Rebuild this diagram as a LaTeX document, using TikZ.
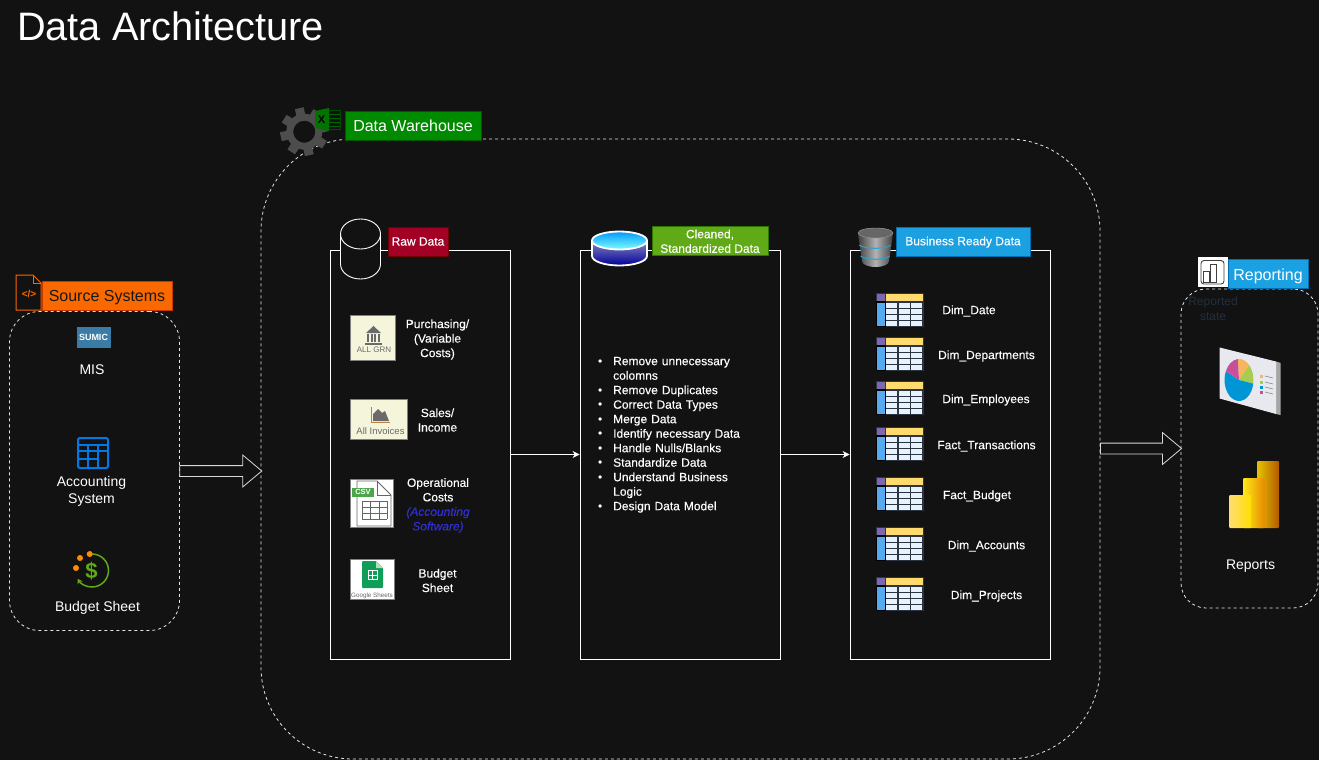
\documentclass[tikz,border=0pt]{standalone}
\usepackage{fontspec}
\setmainfont{Liberation Sans}
\newfontfamily\labelface[FakeBold=0.2]{Liberation Sans}
\usetikzlibrary{shapes.arrows,arrows.meta}

\definecolor{pagebg}{HTML}{121212}
\definecolor{gearcol}{HTML}{4D4D4D}
\definecolor{bluecol}{HTML}{1BA1E2}
\definecolor{beigecol}{HTML}{F5F5DC}
\definecolor{iconcol}{HTML}{6A6A6A}
\definecolor{sheetgreen}{HTML}{0F9D58}
\definecolor{notecol}{HTML}{3030D0}
\definecolor{srcfill}{HTML}{FA6800}
\definecolor{srcline}{HTML}{C73500}
\definecolor{dwfill}{HTML}{008A00}
\definecolor{dwline}{HTML}{005700}
\definecolor{rawfill}{HTML}{A20025}
\definecolor{rawline}{HTML}{6F0000}
\definecolor{cleanfill}{HTML}{60A917}
\definecolor{cleanline}{HTML}{2D7600}
\definecolor{busline}{HTML}{006EAF}
\definecolor{sumicblue}{HTML}{3A7CA5}
\definecolor{acctblue}{HTML}{0078E8}
\definecolor{tabpurple}{HTML}{7B68B0}
\definecolor{tabyellow}{HTML}{FFDB6E}
\definecolor{tabblue}{HTML}{55AAF0}
\definecolor{tabcell}{HTML}{E8F2FC}
\definecolor{tabgap}{HTML}{2A3442}
\definecolor{pieblue}{HTML}{0095D5}
\definecolor{piepink}{HTML}{C8509A}
\definecolor{pieorange}{HTML}{F7B55E}
\definecolor{piegreen}{HTML}{A8CC50}
\definecolor{panelface}{HTML}{E8E9EE}
\definecolor{statecol}{HTML}{232F3E}

\tikzset{
	container/.style={draw=white!90!black, dash pattern=on 3pt off 3pt, line width=0.8pt, fill=none, inner sep=0pt},
	layerbox/.style={draw=white, line width=0.9pt, fill=none, minimum width=180pt, minimum height=409pt, inner sep=0pt},
	tag/.style={draw, line width=1pt, minimum height=29pt, align=center, inner sep=0pt},
	bigtext/.style={text=white, font=\fontsize{16}{18}\selectfont, text height=15pt, text depth=2.5pt},
	smalltag/.style={text=white, font=\labelface\fontsize{12}{14.5}\selectfont},
	caption/.style={text=white, align=center, inner sep=0pt, font=\fontsize{14}{17}\selectfont},
	itemtext/.style={text=white, align=center, inner sep=0pt, font=\labelface\fontsize{12}{14.5}\selectfont},
	blockarrow/.style={single arrow, draw=white!85!black, line width=0.8pt, minimum width=31pt, single arrow head extend=10.5pt, single arrow tip angle=80, inner xsep=0pt, inner ysep=5pt, fill=pagebg, xshift=-2.7pt},
	flow/.style={draw=white, line width=0.8pt, -{Stealth[length=7pt,width=7pt]}},
	icontile/.style={draw=gray, line width=0.8pt},
}

\newcommand{\tableicon}[2]{
	% one table glyph, left and top edge
	\fill[tabgap] (#1,#2) rectangle ++(48,34);
	\fill[tabpurple] (#1+1,#2+1) rectangle ++(8,7);
	\fill[tabyellow] (#1+10,#2+1) rectangle ++(37,7);
	\fill[black] (#1,#2+8) rectangle ++(10,26);
	\fill[tabblue] (#1+1,#2+10) rectangle ++(8,23);
	\foreach \r in {10,16,22,28} {
		\foreach \c in {10,23,35} {
			\fill[tabcell] (#1+\c,#2+\r) rectangle ++(11,4.5);
		}
	}
}

\begin{document}
\begin{tikzpicture}[x=1pt,y=-1pt]
	
	% Page
	\useasboundingbox (0,0) rectangle (1319,760);
	\fill[pagebg] (0,0) rectangle (1319,760);
	
	% Title
	\node[anchor=west, text=white, inner sep=0pt, font=\fontsize{39.7}{42}\selectfont] (title) at (17,26) {Data Architecture};
	
	% Containers
	\node[container, rounded corners=30pt, minimum width=170pt, minimum height=319pt] (source) at (94.5,471) {};
	\node[container, rounded corners=92pt, minimum width=839pt, minimum height=620pt] (warehouse) at (680.5,449) {};
	\node[container, rounded corners=25pt, minimum width=137pt, minimum height=319pt] (reporting) at (1249.5,448.5) {};
	
	% Layers
	\node[layerbox] (raw) at (420,454.5) {};
	\node[layerbox, minimum width=200pt] (clean) at (680,454.5) {};
	\node[layerbox, minimum width=200pt] (business) at (950,454.5) {};
	
	% Arrows
	\path (source.east) -- (warehouse.west |- source.east) node[midway, blockarrow, minimum height=82pt] (towarehouse) {};
	\path (warehouse.east |- reporting.west) -- (reporting.west) node[midway, blockarrow, minimum height=81pt] (toreporting) {};
	\draw[flow] (raw.east) -- (clean.west);
	\draw[flow] (clean.east) -- (business.west);
	
	% Tags
	\node[tag, fill=srcfill, draw=srcline, minimum width=130pt, bigtext, text=black!90, text height=14pt] (sourcetag) at (107,296) {Source Systems};
	\node[tag, fill=dwfill, draw=dwline, minimum width=136pt, bigtext] (warehousetag) at (413,125.5) {Data Warehouse};
	\node[tag, fill=rawfill, draw=rawline, minimum width=60pt, smalltag] (rawtag) at (418,241.5) {Raw Data};
	\node[tag, fill=cleanfill, draw=cleanline, minimum width=116pt, smalltag, text height=23.5pt, text depth=0pt] (cleantag) at (710,241) {Cleaned,\\Standardized Data};
	\node[tag, fill=bluecol, draw=busline, minimum width=134pt, smalltag, text height=7.5pt, text depth=0pt] (businesstag) at (963,241.5) {Business Ready Data};
	\node[tag, fill=bluecol, draw=busline, minimum width=80pt, bigtext, text height=16pt] (reportingtag) at (1268,273.5) {Reporting};
	
	% Source icons
	\draw[srcfill, line width=1pt, fill=pagebg] (16,310) -- (16,275) -- (33,275) -- (41,283) -- (41,310) -- cycle;
	\draw[srcfill, line width=1pt] (33,275) -- (33,283) -- (41,283);
	\node[text=srcfill, inner sep=0pt, font=\bfseries\fontsize{10}{10}\selectfont] (codemark) at (29,294) {</>};
	\node[fill=sumicblue, minimum width=34pt, minimum height=21pt, inner sep=0pt, text=white, font=\bfseries\fontsize{9}{9}\selectfont] (sumic) at (93.5,337.5) {SUMIC};
	\draw[acctblue, line width=2pt, rounded corners=2pt, fill=pagebg] (78,438) rectangle (108,468);
	\draw[acctblue, line width=1.2pt] (78,445) -- (108,445) (78,451) -- (108,451) (78,459) -- (98,459) (88,445) -- (88,468) (98,445) -- (98,468);
	\draw[cleanfill, line width=1.5pt, -{Stealth[length=5pt,width=6pt]}] (92,554) arc (90:-150:16.5pt);
	\node[text=cleanfill, inner sep=0pt, font=\bfseries\fontsize{22}{22}\selectfont] (dollar) at (91.5,571) {\$};
	\foreach \dx/\dy in {80/558, 89.7/554, 76/568} {
		\fill[orange!90!yellow] (\dx,\dy) circle (3pt);
	}
	
	% Source captions
	\node[caption] (mis) at (92,370) {MIS};
	\node[caption] (accounting) at (91.5,491) {Accounting\\System};
	\node[caption] (budget) at (97.5,608) {Budget Sheet};
	
	% Warehouse icons
	\foreach \a in {0,45,...,315} {
		\fill[gearcol, shift={(304.3,131.7)}, rotate=\a+12] (-4.5pt,14pt) rectangle (4.5pt,24pt);
	}
	\draw[gearcol, line width=7pt] (304.3,131.7) circle (14.5pt);
	\draw[green!30!black, line width=0.8pt, fill=pagebg] (324,110) rectangle (340.5,129);
	\foreach \y in {114,118,122,126} {
		\draw[green!40!black, line width=0.8pt] (329,\y) -- (340,\y);
	}
	\fill[green!45!black] (315,111) -- (329,108) -- (329,131) -- (315,128) -- cycle;
	\node[text=black, inner sep=0pt, font=\bfseries\fontsize{11}{11}\selectfont] (excelx) at (321.5,120) {X};
	
	% Raw layer icon
	\draw[white, line width=0.9pt, fill=pagebg] (340.5,234) -- (340.5,264) arc (180:360:20pt and 15pt) -- (380.5,234) arc (0:180:20pt and 15pt);
	\draw[white, line width=0.9pt] (340.5,234) arc (180:360:20pt and 15pt);
	
	% Raw layer tiles
	\draw[icontile, fill=beigecol] (350.5,315.5) rectangle (395.5,360);
	\fill[iconcol] (366,333) -- (373.5,326) -- (381,333) -- cycle;
	\foreach \x in {367,370.5,374,377.5} {
		\fill[iconcol] (\x,334) rectangle ++(2,8);
	}
	\fill[iconcol] (365,342.5) rectangle (382,345);
	\node[text=iconcol, inner sep=0pt, font=\fontsize{8}{8}\selectfont] (allgrn) at (374,350) {ALL GRN};
	\draw[icontile, fill=beigecol] (350.5,399.5) rectangle (407.5,439);
	\draw[orange!50!gray, line width=0.8pt] (371,407) -- (371,422) -- (390,422);
	\fill[iconcol] (373,421) -- (373,414) -- (378,409) -- (382,413) -- (385,411) -- (389,421) -- cycle;
	\node[text=iconcol, inner sep=0pt, font=\fontsize{9.5}{9.5}\selectfont] (allinvoices) at (380.5,431) {All Invoices};
	\draw[icontile, fill=white] (350.5,479.5) rectangle (393,527);
	\draw[black!60, line width=0.8pt, fill=white] (357,481) -- (377,481) -- (391,495) -- (391,526) -- (357,526) -- cycle;
	\draw[black!60, line width=0.8pt] (377,481) -- (377,495) -- (391,495);
	\foreach \y in {501,507,513,519} {
		\draw[black!60, line width=0.8pt] (362,\y) -- (387,\y);
	}
	\foreach \x in {362,370,379,387} {
		\draw[black!60, line width=0.8pt] (\x,501) -- (\x,519);
	}
	\node[fill=green!50!black!70!white, minimum width=22pt, minimum height=9pt, inner sep=0pt, text=white, font=\bfseries\fontsize{7.5}{8}\selectfont] (csvtag) at (363,492) {CSV};
	\draw[icontile, fill=white] (350.5,559.5) rectangle (394,599);
	\fill[sheetgreen, rounded corners=1pt] (362,561) -- (376,561) -- (383,568) -- (383,588) -- (362,588) -- cycle;
	\fill[green!60!black!30!white] (376,561) -- (376,568) -- (383,568) -- cycle;
	\draw[white, line width=1pt] (368,570.5) rectangle (377,579.5) (368,575) -- (377,575) (372.5,570.5) -- (372.5,579.5);
	\node[text=iconcol, inner sep=0pt, font=\fontsize{6.3}{7}\selectfont] (gsheets) at (372,596) {Google Sheets};
	
	% Raw layer captions
	\node[itemtext] (purchasing) at (437.5,339.5) {Purchasing/\\(Variable\\Costs)};
	\node[itemtext] (sales) at (437.5,420) {Sales/\\Income};
	\node[itemtext] (operational) at (438,505.5) {Operational\\Costs\\\textcolor{notecol}{\itshape (Accounting}\\\textcolor{notecol}{\itshape Software)}};
	\node[itemtext] (budgetsheet) at (437.5,580.5) {Budget\\Sheet};
	
	% Cleaned layer icon
	\shade[top color=blue!30!gray!70!white, bottom color=blue!60!black] (592,240) -- (592,256) arc (180:360:27.5pt and 9.5pt) -- (647,240) -- cycle;
	\draw[white, line width=1.8pt] (592,240) -- (592,256) arc (180:360:27.5pt and 9.5pt) -- (647,240);
	\draw[white, line width=1.8pt, top color=cyan!60!blue, bottom color=cyan!50!white] (619.5,240.5) ellipse (27.5pt and 9pt);
	
	% Cleaned layer list
	\node[anchor=north west, text=white, inner sep=0pt, text width=152pt, align=left, font=\labelface\fontsize{12}{14.5}\selectfont] (steps) at (596,342.5) {%
		\setlength{\leftmargini}{17pt}\setlength{\labelsep}{11pt}%
		\begin{itemize}\setlength{\itemsep}{0pt}\setlength{\parskip}{0pt}\setlength{\parsep}{0pt}\setlength{\topsep}{0pt}\vspace{-\topsep}\vspace{-\parskip}
			\item Remove unnecessary\\colomns
			\item Remove Duplicates
			\item Correct Data Types
			\item Merge Data
			\item Identify necessary Data
			\item Handle Nulls/Blanks
			\item Standardize Data
			\item Understand Business\\Logic
			\item Design Data Model
		\end{itemize}};
	
	% Business layer icon
	\shade[left color=black!75, right color=black!75, middle color=black!30] (858,233) -- (862,261) arc (180:360:13.5pt and 6pt) -- (889,261) -- (893,233) arc (0:180:17.5pt and 5pt) -- cycle;
	\draw[black!40, fill=black!60] (875.5,233) ellipse (17.5pt and 5pt);
	\draw[blue!30!cyan!70!gray, line width=1pt] (859,245) arc (200:340:17pt and 5pt);
	\draw[blue!30!cyan!70!gray, line width=1pt] (860.5,256) arc (200:340:15.5pt and 5pt);
	
	% Tables
	\foreach \yt in {293,337,381,427,477,527,577} {
		\tableicon{876}{\yt}
	}
	\node[itemtext] (dimdate) at (969,311) {Dim\_Date};
	\node[itemtext] (dimdepartments) at (986.5,356) {Dim\_Departments};
	\node[itemtext] (dimemployees) at (986,400) {Dim\_Employees};
	\node[itemtext] (facttransactions) at (986.5,446) {Fact\_Transactions};
	\node[itemtext] (factbudget) at (977,496) {Fact\_Budget};
	\node[itemtext] (dimaccounts) at (986.5,546) {Dim\_Accounts};
	\node[itemtext] (dimprojects) at (986.5,596) {Dim\_Projects};
	
	% Reporting icon
	\fill[white] (1197.5,257) rectangle (1227.5,287);
	\draw[black!75, line width=0.9pt, rounded corners=3pt] (1201,260.5) rectangle (1224,284);
	\draw[black!75, line width=0.9pt] (1203,271) rectangle (1209.5,282) (1210.5,264) rectangle (1216,282);
	\node[text=statecol, align=center, inner sep=0pt, font=\fontsize{12}{14.5}\selectfont] (reportedstate) at (1213,308.5) {Reported\\state};
	
	% Pie panel
	\fill[gray!70] (1276,361.5) -- (1280.5,363) -- (1280.5,415) -- (1276,414) -- cycle;
	\fill[panelface] (1219.5,347.5) -- (1276,361.5) -- (1276,414) -- (1219.5,398.5) -- cycle;
	\foreach \pa/\pb/\pc in {95/45/pieorange, 45/-10/piegreen, -10/-205/pieblue, 155/95/piepink} {
		\fill[\pc] (1239,380) -- ++(\pa:14.5pt and 21pt) arc (\pa:\pb:14.5pt and 21pt) -- cycle;
	}
	\foreach \ly/\lc in {375/pieorange, 381/piegreen, 386/pieblue, 391/piepink} {
		\fill[\lc] (1260,\ly) rectangle ++(3,3);
		\draw[gray, line width=0.6pt] (1265,\ly+1) -- (1273,\ly+3);
	}
	
	% Power BI bars
	\shade[left color=yellow!70!orange!90!black, right color=orange!70!black, rounded corners=1pt] (1257,461) rectangle (1279,528);
	\shade[left color=yellow!80!orange!90!white, right color=orange!80!yellow!90!black, rounded corners=1pt] (1243,478) rectangle (1265,528);
	\shade[left color=yellow!50!orange!55!white, right color=yellow!75!orange, rounded corners=1pt] (1229,495) rectangle (1251,528);
	\node[caption] (reports) at (1250.5,566) {Reports};
	
\end{tikzpicture}
\end{document}
